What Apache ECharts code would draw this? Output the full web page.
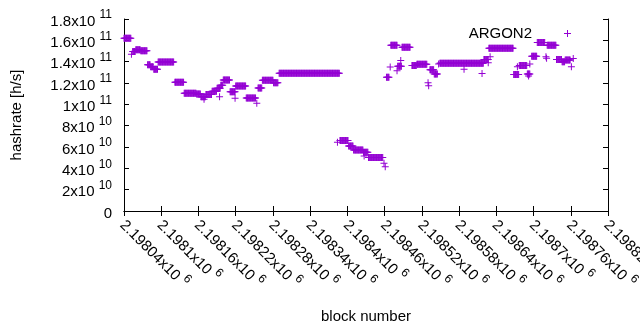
<!DOCTYPE html>
<html lang="en">
<head>
    <meta charset="UTF-8">
    <title>ARGON2 hashrate</title>
    <script src="https://cdn.jsdelivr.net/npm/echarts@6/dist/echarts.min.js"></script>
    <style>
        html, body { margin: 0; padding: 0; background: #fff; }
        #main { width: 640px; height: 330px; }
    </style>
</head>
<body>
<div id="main"></div>
<script>
    // runs of consecutive blocks with the same hashrate
    const runStart = [2198040, 2198054, 2198059, 2198067, 2198078, 2198083, 2198088, 2198095, 2198122, 2198137,
        2198157, 2198164, 2198172, 2198182, 2198190, 2198196, 2198200, 2198211, 2198220, 2198237,
        2198256, 2198263, 2198281, 2198290, 2198388, 2198402, 2198410, 2198426, 2198434, 2198463,
        2198470, 2198481, 2198488, 2198504, 2198512, 2198533, 2198540, 2198549, 2198620, 2198628,
        2198668, 2198677, 2198690, 2198697, 2198706, 2198722, 2198737, 2198746, 2198751];
    const runEnd = [2198051, 2198058, 2198066, 2198077, 2198082, 2198087, 2198094, 2198120, 2198136, 2198156,
        2198163, 2198171, 2198181, 2198189, 2198195, 2198199, 2198210, 2198219, 2198236, 2198252,
        2198262, 2198280, 2198288, 2198387, 2198401, 2198409, 2198425, 2198433, 2198457, 2198467,
        2198480, 2198487, 2198501, 2198511, 2198528, 2198539, 2198545, 2198619, 2198627, 2198667,
        2198676, 2198689, 2198694, 2198705, 2198718, 2198736, 2198745, 2198750, 2198759];
    const runHashrate = [162e9, 149.5e9, 151.2e9, 150.3e9, 137.2e9, 135.2e9, 133e9, 139.8e9, 120.7e9, 110.5e9,
        109.8e9, 107.2e9, 109.2e9, 112.2e9, 115e9, 118e9, 122.8e9, 111.8e9, 117.2e9, 106e9,
        115.3e9, 122.5e9, 120.2e9, 129.1e9, 66.1e9, 61e9, 57.3e9, 55e9, 50.2e9, 125.5e9,
        155.3e9, 135.7e9, 153.5e9, 136.3e9, 137.6e9, 132.5e9, 128.4e9, 138.5e9, 142e9, 152.5e9,
        128e9, 136.5e9, 128.5e9, 145e9, 158e9, 155.3e9, 142e9, 140e9, 141.6e9];

    // single outlying blocks
    const spikeBlock = [2198052, 2198169, 2198194, 2198219, 2198254, 2198384, 2198427, 2198459, 2198461, 2198469,
        2198480, 2198486, 2198530, 2198531, 2198547, 2198588, 2198617, 2198627, 2198630, 2198674,
        2198692, 2198694, 2198720, 2198721, 2198761, 2198764];
    const spikeHashrate = [147e9, 104.7e9, 107e9, 105.6e9, 101e9, 64.4e9, 51.5e9, 44.7e9, 41.6e9, 135e9,
        131.5e9, 141e9, 120.3e9, 117.5e9, 137.8e9, 132.8e9, 129e9, 139e9, 144.7e9, 135.3e9,
        126.6e9, 137.8e9, 144.7e9, 143.2e9, 135.3e9, 143e9];

    const points = [];
    for (let i = 0; i < runStart.length; i++) {
        for (let b = runStart[i]; b <= runEnd[i]; b++) points.push([b, runHashrate[i]]);
    }
    for (let i = 0; i < spikeBlock.length; i++) points.push([spikeBlock[i], spikeHashrate[i]]);

    const plus = 'path://M3,0h1v3h3v1h-3v3h-1v-3h-3v-1h3z';
    const purple = '#9400d3';
    const font = 'Liberation Sans, Arial, sans-serif';

    // gnuplot style "1.8x10^11"
    function sciText(m, e) {
        return '{b|' + m + 'x10 }{s|' + e + '}';
    }
    function yLabel(v) {
        if (v === 0) return '{b|0}';
        const e = Math.floor(Math.log10(v) + 1e-9);
        return sciText(+(v / Math.pow(10, e)).toFixed(6), e);
    }
    function xLabel(v) {
        return sciText(+(v / 1e6).toFixed(5), 6);
    }
    const rich = {
        b: { fontSize: 15, lineHeight: 20, verticalAlign: 'bottom', color: '#000', fontFamily: font },
        s: { fontSize: 12, lineHeight: 12, verticalAlign: 'top', color: '#000', fontFamily: font }
    };

    const chart = echarts.init(document.getElementById('main'));
    chart.setOption({
        animation: false,
        color: [purple],
        textStyle: { fontFamily: font },
        grid: { left: 124, right: 32, top: 19, bottom: 119, outerBoundsMode: 'none', containLabel: false },
        legend: {
            data: [{ name: 'ARGON2', icon: plus }],
            right: 64, top: 21,
            align: 'right',
            itemWidth: 7, itemHeight: 7,
            itemStyle: { color: purple, borderWidth: 0 },
            textStyle: { fontSize: 15, color: '#000', padding: [0, 27, 0, 0] }
        },
        xAxis: [
            {
                type: 'value', min: 2198040, max: 2198820, interval: 60,
                name: 'block number', nameLocation: 'middle', nameGap: 98,
                nameTextStyle: { fontSize: 15, color: '#000' },
                axisLine: { lineStyle: { color: '#000' } },
                axisTick: { inside: true, length: 5, lineStyle: { color: '#000' } },
                splitLine: { show: false },
                axisLabel: { rotate: -45, margin: 10, formatter: xLabel, rich: rich }
            },
            {
                type: 'value', position: 'top', min: 2198040, max: 2198820, interval: 60,
                axisLine: { lineStyle: { color: '#000' } },
                axisTick: { inside: true, length: 5, lineStyle: { color: '#000' } },
                axisLabel: { show: false }, splitLine: { show: false }
            }
        ],
        yAxis: [
            {
                type: 'value', min: 0, max: 1.8e11, interval: 2e10,
                name: 'hashrate [h/s]', nameLocation: 'middle', nameGap: 100,
                nameTextStyle: { fontSize: 15, color: '#000' },
                axisLine: { show: true, lineStyle: { color: '#000' } },
                axisTick: { show: true, inside: true, length: 5, lineStyle: { color: '#000' } },
                splitLine: { show: false },
                axisLabel: { margin: 12, formatter: yLabel, rich: rich }
            },
            {
                type: 'value', position: 'right', min: 0, max: 1.8e11, interval: 2e10,
                axisLine: { show: true, lineStyle: { color: '#000' } },
                axisTick: { show: true, inside: true, length: 5, lineStyle: { color: '#000' } },
                axisLabel: { show: false }, splitLine: { show: false }
            }
        ],
        series: [{
            name: 'ARGON2',
            type: 'scatter',
            data: points,
            symbol: plus,
            symbolSize: 7,
            itemStyle: { color: purple, opacity: 1 }
        }]
    });
</script>
</body>
</html>
